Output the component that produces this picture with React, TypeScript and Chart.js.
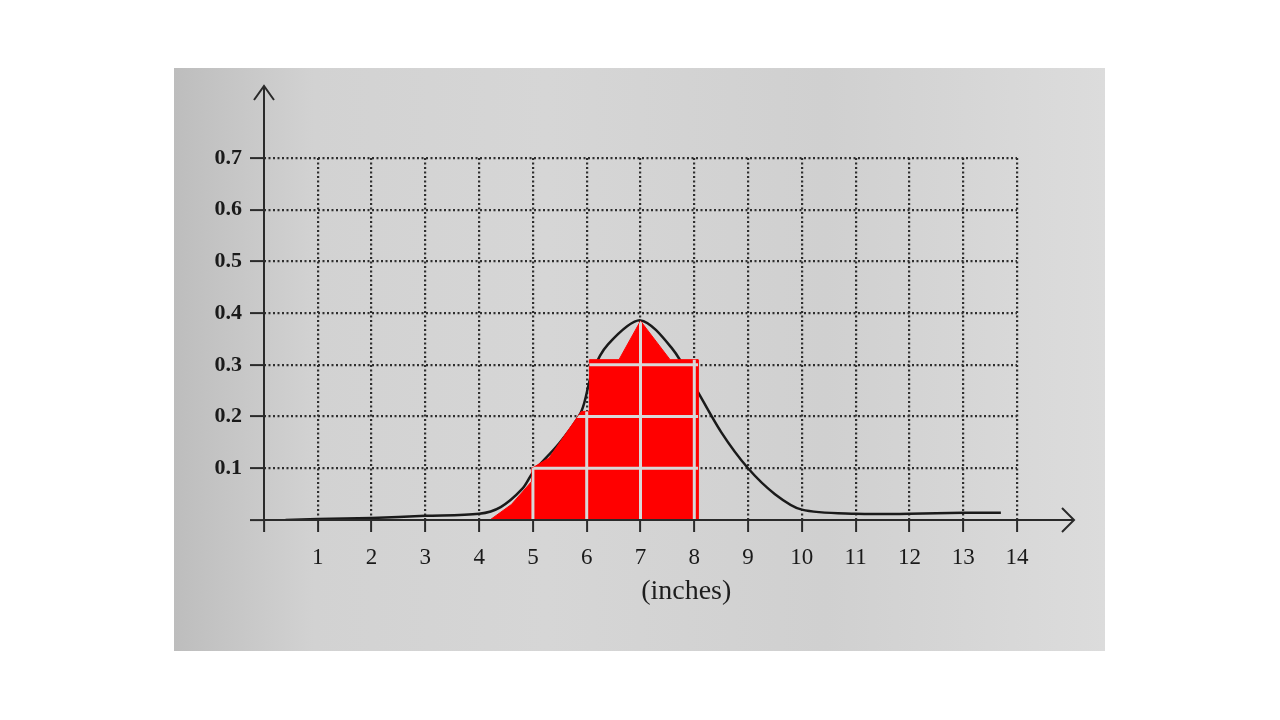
import React, { useEffect, useRef } from "react";
import { Chart, registerables } from "chart.js";

Chart.register(...registerables);

const xTicks = [1, 2, 3, 4, 5, 6, 7, 8, 9, 10, 11, 12, 13, 14];
const yTicks = [0.1, 0.2, 0.3, 0.4, 0.5, 0.6, 0.7];
const curveX = [0.4, 1, 2, 3, 4, 4.4, 4.8, 5, 5.5, 5.9, 6.1, 6.4, 7, 7.6, 8, 8.5, 9, 9.5, 10, 11, 12, 13, 13.7];
const curveY = [0.0, 0.002, 0.004, 0.008, 0.012, 0.025, 0.06, 0.092, 0.15, 0.21, 0.285, 0.34, 0.386, 0.33, 0.26, 0.17, 0.1, 0.05, 0.02, 0.012, 0.012, 0.014, 0.014];
const shadeX = [4.2, 4.6, 4.98, 4.98, 5.3, 5.9, 6.05, 6.05, 6.6, 7, 7.55, 8.07, 8.07];
const shadeY = [0, 0.03, 0.075, 0.1, 0.12, 0.21, 0.21, 0.31, 0.31, 0.385, 0.31, 0.31, 0];
const axisLabel = "(inches)";

const decor = {
  id: "decor",
  beforeDraw(chart: any) {
    const ctx = chart.ctx;
    ctx.save();
    ctx.fillStyle = "#ffffff";
    ctx.fillRect(0, 0, chart.width, chart.height);
    const g = ctx.createLinearGradient(174, 0, 1105, 0);
    g.addColorStop(0, "#bdbdbd");
    g.addColorStop(0.15, "#d2d2d2");
    g.addColorStop(0.4, "#d6d6d6");
    g.addColorStop(0.7, "#d0d0d0");
    g.addColorStop(1, "#dcdcdc");
    ctx.fillStyle = g;
    ctx.fillRect(174, 68, 931, 583);
    ctx.restore();
  },
  afterDatasetsDraw(chart: any) {
    // light gaps where grid lines cross the red shading
    const ctx = chart.ctx;
    const xs = chart.scales.x;
    const ys = chart.scales.y;
    ctx.save();
    ctx.beginPath();
    shadeX.forEach((x, i) => {
      const px = xs.getPixelForValue(x);
      const py = ys.getPixelForValue(shadeY[i]);
      if (i === 0) ctx.moveTo(px, py);
      else ctx.lineTo(px, py);
    });
    ctx.closePath();
    ctx.clip();
    ctx.strokeStyle = "#d8d8d8";
    ctx.lineWidth = 3;
    ctx.beginPath();
    xTicks.forEach((v) => {
      const px = xs.getPixelForValue(v);
      ctx.moveTo(px, ys.top);
      ctx.lineTo(px, ys.bottom);
    });
    yTicks.forEach((v) => {
      const py = ys.getPixelForValue(v);
      ctx.moveTo(xs.left, py);
      ctx.lineTo(xs.right, py);
    });
    ctx.stroke();
    ctx.restore();
  },
  afterDraw(chart: any) {
    const ctx = chart.ctx;
    const xs = chart.scales.x;
    const ys = chart.scales.y;
    const x0 = xs.getPixelForValue(0);
    const y0 = ys.getPixelForValue(0);
    ctx.save();
    ctx.strokeStyle = "#2a2a2a";
    ctx.lineWidth = 2;
    ctx.beginPath();
    ctx.moveTo(x0, y0);
    ctx.lineTo(x0, 86);
    ctx.moveTo(x0 - 10, 100);
    ctx.lineTo(x0, 86);
    ctx.lineTo(x0 + 10, 100);
    ctx.moveTo(x0, y0);
    ctx.lineTo(1074, y0);
    ctx.moveTo(1062, y0 - 12);
    ctx.lineTo(1074, y0);
    ctx.lineTo(1062, y0 + 12);
    ctx.stroke();
    ctx.fillStyle = "#1e1e1e";
    ctx.font = "28px 'Liberation Serif', 'DejaVu Serif', serif";
    ctx.textAlign = "center";
    ctx.textBaseline = "middle";
    ctx.fillText(axisLabel, xs.getPixelForValue(7.85), 592);
    ctx.restore();
  },
};

export default function App() {
  const ref = useRef<HTMLCanvasElement>(null);
  useEffect(() => {
    if (!ref.current) return;
    const gridColor = (c: any) => (c.tick && c.tick.value === 0 ? "rgba(0,0,0,0)" : "#2e2e2e");
    const chart = new Chart(ref.current, {
      type: "scatter",
      data: {
        datasets: [
          {
            label: "shaded",
            data: shadeX.map((x, i) => ({ x, y: shadeY[i] })),
            showLine: true,
            fill: "origin",
            backgroundColor: "#ff0000",
            borderColor: "#ff0000",
            borderWidth: 1,
            pointRadius: 0,
            tension: 0,
          },
          {
            label: "curve",
            data: curveX.map((x, i) => ({ x, y: curveY[i] })),
            showLine: true,
            borderColor: "#1a1a1a",
            borderWidth: 2.5,
            pointRadius: 0,
            tension: 0.3,
            fill: false,
          },
        ],
      },
      options: {
        responsive: false,
        animation: false,
        layout: { padding: { left: 150, right: 263, top: 158, bottom: 112 } },
        plugins: { legend: { display: false }, tooltip: { enabled: false } },
        scales: {
          x: {
            type: "linear",
            min: 0,
            max: 14,
            afterFit: (s: any) => { s.height = 88; },
            afterBuildTicks: (s: any) => { s.ticks = [0, ...xTicks].map((v) => ({ value: v })); },
            ticks: {
              callback: (v: any) => (v === 0 ? "" : String(v)),
              color: "#1a1a1a",
              font: { size: 23, family: "'Liberation Serif', 'DejaVu Serif', serif" },
              padding: 12,
              maxRotation: 0,
              autoSkip: false,
            },
            grid: {
              color: gridColor,
              lineWidth: 2.2,
              drawTicks: true,
              tickLength: 12,
              tickColor: "#2a2a2a",
              tickWidth: 2,
              tickBorderDash: [],
            },
            border: { display: false, dash: [2, 2.5] },
          },
          y: {
            type: "linear",
            min: 0,
            max: 0.7,
            afterFit: (s: any) => { s.width = 114; },
            afterBuildTicks: (s: any) => { s.ticks = [0, ...yTicks].map((v) => ({ value: v })); },
            ticks: {
              callback: (v: any) => (v === 0 ? "" : Number(v).toFixed(1)),
              color: "#1a1a1a",
              font: { size: 22, weight: "bold", family: "'Liberation Serif', 'DejaVu Serif', serif" },
              padding: 8,
            },
            grid: {
              color: gridColor,
              lineWidth: 2.2,
              drawTicks: true,
              tickLength: 14,
              tickColor: "#2a2a2a",
              tickWidth: 2,
              tickBorderDash: [],
            },
            border: { display: false, dash: [2, 2.5] },
          },
        },
      },
      plugins: [decor],
    });
    return () => chart.destroy();
  }, []);
  return (
    <div style={{ position: "fixed", left: 0, top: 0, width: 1280, height: 720 }}>
      <canvas ref={ref} width={1280} height={720} style={{ display: "block", width: 1280, height: 720 }} />
    </div>
  );
}
